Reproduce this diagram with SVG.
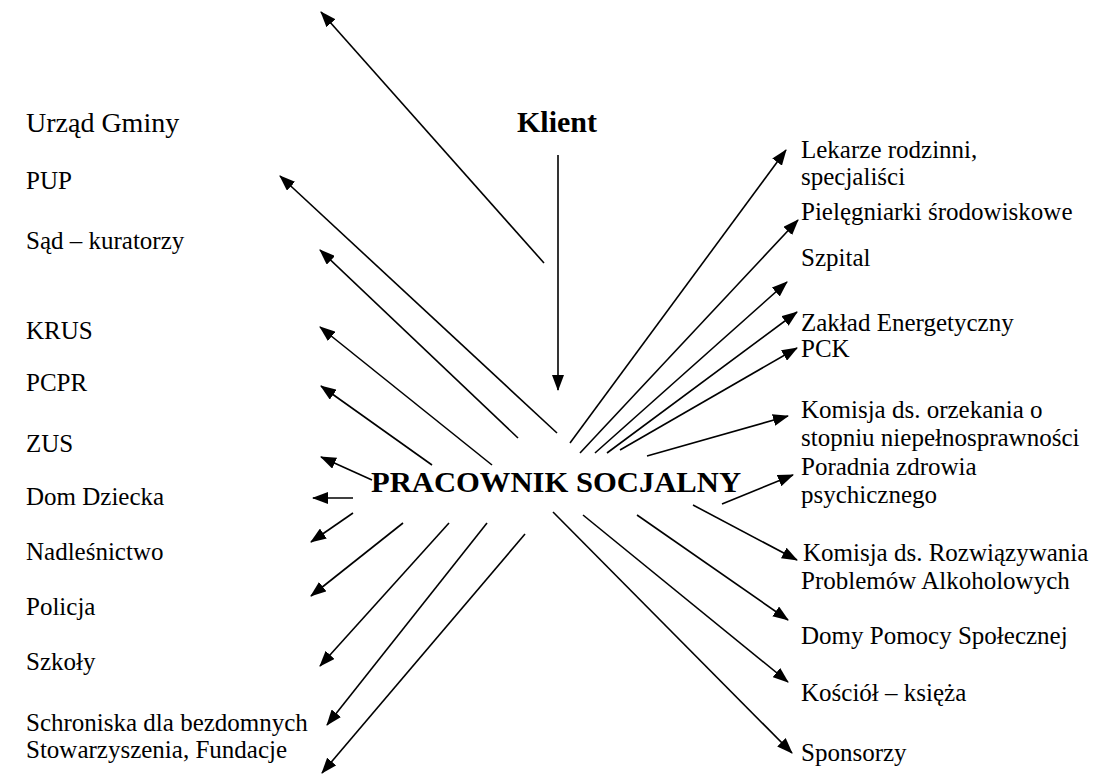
<svg xmlns="http://www.w3.org/2000/svg" width="1107" height="775" viewBox="0 0 1107 775">
<style>
.lbl{font-family:"Liberation Serif","Times New Roman",serif;font-size:25px;fill:#000}
.big{font-family:"Liberation Serif","Times New Roman",serif;font-size:28px;fill:#000}
.bold{font-family:"Liberation Serif","Times New Roman",serif;font-size:30px;font-weight:bold;fill:#000}
.c line{stroke:#000;stroke-width:1.6;marker-end:url(#ah)}
</style>
<defs>
<marker id="ah" markerUnits="userSpaceOnUse" markerWidth="16" markerHeight="12" refX="15" refY="6" orient="auto" viewBox="0 0 16 12">
<path d="M0,0 L16,6 L0,12 z" fill="#000"/>
</marker>
</defs>
<rect width="1107" height="775" fill="#fff"/>
<g id="connectors" class="c">
<line x1="544" y1="263" x2="321" y2="12"/>
<line x1="557" y1="433" x2="280" y2="176"/>
<line x1="518" y1="438" x2="320" y2="250"/>
<line x1="492" y1="465" x2="320" y2="327"/>
<line x1="432" y1="465" x2="321" y2="386"/>
<line x1="372" y1="480" x2="321" y2="457"/>
<line x1="353" y1="498" x2="313" y2="498"/>
<line x1="353" y1="513" x2="311" y2="542"/>
<line x1="403" y1="523" x2="311" y2="596"/>
<line x1="449" y1="523" x2="320" y2="666"/>
<line x1="487" y1="523" x2="327" y2="725"/>
<line x1="525" y1="534" x2="322" y2="773"/>
<line x1="558" y1="155" x2="558" y2="390"/>
<line x1="570" y1="443" x2="786" y2="150"/>
<line x1="580" y1="453" x2="798" y2="220"/>
<line x1="595" y1="453" x2="787" y2="282"/>
<line x1="607" y1="453" x2="797" y2="312"/>
<line x1="620" y1="450" x2="797" y2="348"/>
<line x1="647" y1="456" x2="788" y2="416"/>
<line x1="722" y1="504" x2="793" y2="475"/>
<line x1="693" y1="505" x2="797" y2="560"/>
<line x1="637" y1="515" x2="788" y2="620"/>
<line x1="583" y1="515" x2="788" y2="682"/>
<line x1="553" y1="512" x2="792" y2="753"/>
</g>
<g id="klient"><text class="bold" x="557" y="132" text-anchor="middle">Klient</text></g>
<g id="pracownik"><text class="bold" x="371" y="492" textLength="370" lengthAdjust="spacingAndGlyphs">PRACOWNIK SOCJALNY</text></g>
<g id="urzad"><text class="big" x="26" y="132">Urząd Gminy</text></g>
<g id="pup"><text class="lbl" x="26" y="189">PUP</text></g>
<g id="sad"><text class="lbl" x="26" y="249">Sąd – kuratorzy</text></g>
<g id="krus"><text class="lbl" x="26" y="339">KRUS</text></g>
<g id="pcpr"><text class="lbl" x="26" y="391">PCPR</text></g>
<g id="zus"><text class="lbl" x="26" y="452">ZUS</text></g>
<g id="dom"><text class="lbl" x="26" y="505">Dom Dziecka</text></g>
<g id="nadl"><text class="lbl" x="26" y="560">Nadleśnictwo</text></g>
<g id="policja"><text class="lbl" x="26" y="615">Policja</text></g>
<g id="szkoly"><text class="lbl" x="26" y="670">Szkoły</text></g>
<g id="schroniska"><text class="lbl" x="26" y="731">Schroniska dla bezdomnych</text><text class="lbl" x="26" y="758">Stowarzyszenia, Fundacje</text></g>
<g id="lekarze"><text class="lbl" x="801" y="158">Lekarze rodzinni,</text><text class="lbl" x="801" y="185">specjaliści</text></g>
<g id="pielegniarki"><text class="lbl" x="801" y="220">Pielęgniarki środowiskowe</text></g>
<g id="szpital"><text class="lbl" x="801" y="266">Szpital</text></g>
<g id="zaklad"><text class="lbl" x="801" y="331">Zakład Energetyczny</text></g>
<g id="pck"><text class="lbl" x="801" y="357">PCK</text></g>
<g id="komisja1"><text class="lbl" x="801" y="418">Komisja ds. orzekania o</text><text class="lbl" x="801" y="446">stopniu niepełnosprawności</text></g>
<g id="poradnia"><text class="lbl" x="801" y="475">Poradnia zdrowia</text><text class="lbl" x="801" y="503">psychicznego</text></g>
<g id="komisja2"><text class="lbl" x="803" y="561">Komisja ds. Rozwiązywania</text><text class="lbl" x="801" y="589">Problemów Alkoholowych</text></g>
<g id="domy"><text class="lbl" x="801" y="644">Domy Pomocy Społecznej</text></g>
<g id="kosciol"><text class="lbl" x="801" y="701">Kościół – księża</text></g>
<g id="sponsorzy"><text class="lbl" x="801" y="761">Sponsorzy</text></g>
</svg>
